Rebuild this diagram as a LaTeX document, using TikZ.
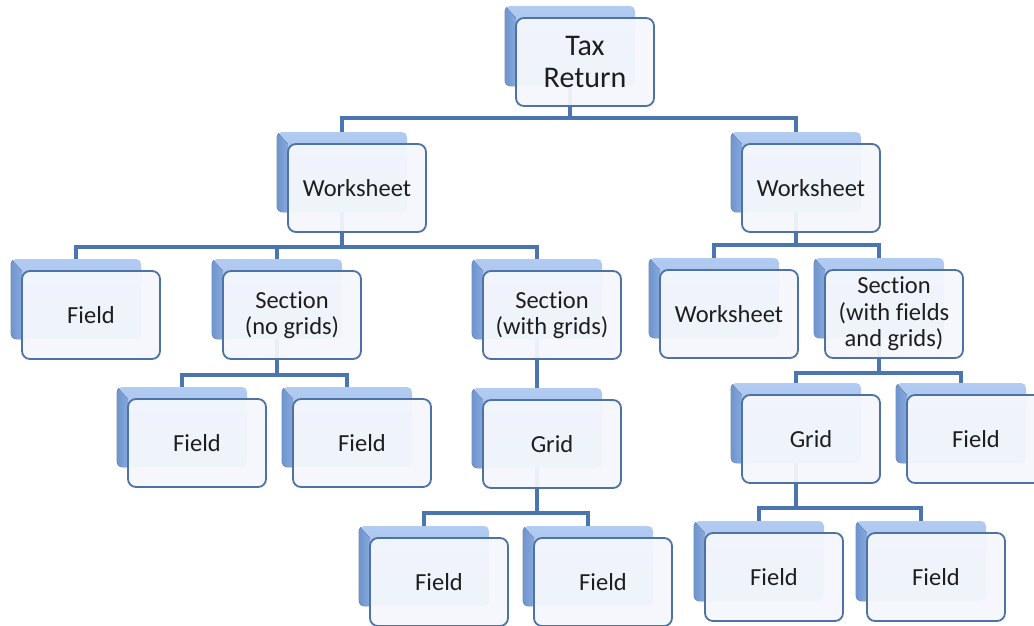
\documentclass[tikz,border=0pt]{standalone}
\usepackage{fontspec}
\setmainfont{Carlito}[Ligatures=NoCommon]
\usetikzlibrary{backgrounds}

\definecolor{linkblue}{HTML}{4A75AE}
\definecolor{edgeblue}{HTML}{4F72A6}
\definecolor{topfaceA}{HTML}{B2CBF1}
\definecolor{topfaceB}{HTML}{92B3E4}
\definecolor{sidefaceA}{HTML}{6E94CE}
\definecolor{sidefaceB}{HTML}{86A8DC}
\definecolor{paneface}{HTML}{F5F7FC}
\definecolor{inktext}{HTML}{1E1E1E}

\tikzset{
  backbox/.style={rectangle, minimum width=130pt, minimum height=80pt,
    inner sep=0pt, rounded corners=5pt, top color=topfaceA, bottom color=topfaceB},
  sideface/.style={left color=sidefaceA, right color=sidefaceB},
  frontbox/.style={rectangle, minimum width=138pt, minimum height=88pt,
    inner sep=2pt, rounded corners=8pt, draw=edgeblue, line width=1.8pt,
    fill=paneface, fill opacity=0.94, text opacity=1, text=inktext,
    align=center, font=\fontsize{24.5}{26.5}\selectfont},
  bigtext/.style={font=\fontsize{30}{32}\selectfont},
  link/.style={draw=linkblue, line width=4pt},
}

% A bevelled card: a blue back plate with a white pane in front of it.
% #1 extra pane options, #2 name, #3 left edge of pane, #4 top edge of pane, #5 text
\newcommand\orgcard[5][]{%
  \node[backbox] (#2b) at (#3+54,#4+28) {};
  \begin{scope}
    \clip[rounded corners=5pt] (#2b.south west) rectangle (#2b.north east);
    \fill[sideface] (#2b.north west) -- ++(11,12)
      -- ([xshift=11pt]#2b.south west) -- (#2b.south west) -- cycle;
  \end{scope}
  \node[frontbox,#1] (#2) at (#3+69,#4+44) {#5};
}

\begin{document}
\begin{tikzpicture}[x=1pt,y=-1pt]
  \useasboundingbox (0,0) rectangle (1034,626);
  \clip (0,0) rectangle (1034,626);

  % level 0
  \orgcard[bigtext]{TR}{516}{18}{Tax\\Return}
  % level 1
  \orgcard{WL}{288}{144}{Worksheet}
  \orgcard{WR}{742}{144}{Worksheet}
  % level 2
  \orgcard{FA}{22}{271}{Field}
  \orgcard{SN}{223}{271}{Section\\(no grids)}
  \orgcard{SG}{483}{271}{Section\\(with grids)}
  \orgcard{WW}{660}{270}{Worksheet}
  \orgcard{SF}{825}{270}{Section\\(with fields\\and grids)}
  % level 3
  \orgcard{FB}{128}{399}{Field}
  \orgcard{FC}{293}{399}{Field}
  \orgcard{GL}{483}{400}{Grid}
  \orgcard{GR}{742}{395}{Grid}
  \orgcard{FD}{907}{395}{Field}
  % level 4
  \orgcard{FE}{370}{538}{Field}
  \orgcard{FF}{534}{538}{Field}
  \orgcard{FG}{705}{533}{Field}
  \orgcard{FH}{867}{533}{Field}

  % elbow connectors, drawn behind the cards
  \begin{scope}[on background layer]
    \coordinate (busA) at (0,118);
    \coordinate (busB) at (0,247);
    \coordinate (busC) at (0,245);
    \coordinate (busD) at (0,375);
    \coordinate (busE) at (0,373);
    \coordinate (busF) at (0,513);
    \coordinate (busG) at (0,508);

    \draw[link] (TRb.south) -- (TRb.south |- busA) -| (WLb.north);
    \draw[link] (TRb.south) -- (TRb.south |- busA) -| (WRb.north);

    \draw[link] (WLb.south) -- (WLb.south |- busB) -| (FAb.north);
    \draw[link] (WLb.south) -- (WLb.south |- busB) -| (SNb.north);
    \draw[link] (WLb.south) -- (WLb.south |- busB) -| (SGb.north);

    \draw[link] (WRb.south) -- (WRb.south |- busC) -| (WWb.north);
    \draw[link] (WRb.south) -- (WRb.south |- busC) -| (SFb.north);

    \draw[link] (SNb.south) -- (SNb.south |- busD) -| (FBb.north);
    \draw[link] (SNb.south) -- (SNb.south |- busD) -| (FCb.north);

    \draw[link] (SGb.south) -- (GLb.north);

    \draw[link] (SFb.south) -- (SFb.south |- busE) -| (GRb.north);
    \draw[link] (SFb.south) -- (SFb.south |- busE) -| (FDb.north);

    \draw[link] (GLb.south) -- (GLb.south |- busF) -| (FEb.north);
    \draw[link] (GLb.south) -- (GLb.south |- busF) -| (FFb.north);

    \draw[link] (GRb.south) -- (GRb.south |- busG) -| (FGb.north);
    \draw[link] (GRb.south) -- (GRb.south |- busG) -| (FHb.north);
  \end{scope}
\end{tikzpicture}
\end{document}
